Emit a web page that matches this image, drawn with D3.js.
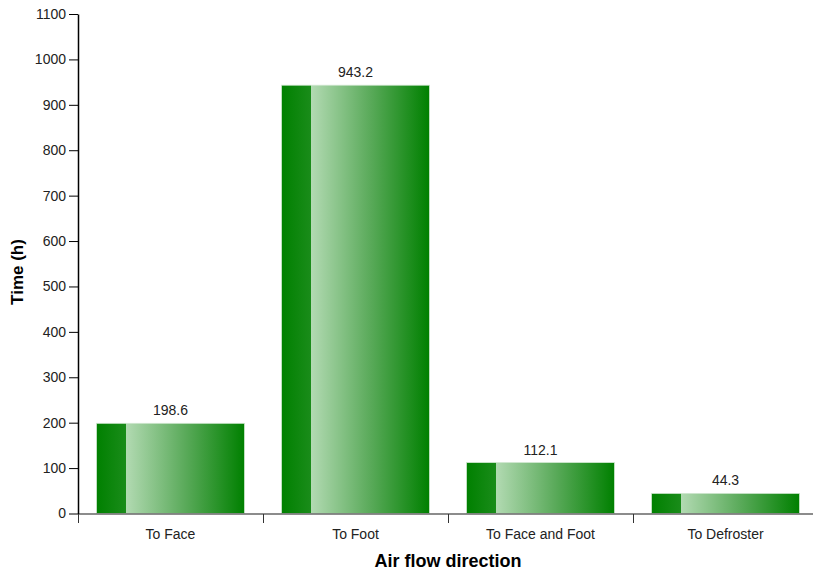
<!DOCTYPE html>
<html><head><meta charset="utf-8">
<script src="https://cdn.jsdelivr.net/npm/d3@7"></script>
<style>body{margin:0;background:#fff;} text{font-family:"Liberation Sans",Arial,sans-serif;}</style>
</head><body>
<svg id="c" width="813" height="574"></svg>
<script>
const categories = ["To Face", "To Foot", "To Face and Foot", "To Defroster"];
const values = [198.6, 943.2, 112.1, 44.3];
const yTicks = [0,100,200,300,400,500,600,700,800,900,1000,1100];

(function(){
const svg = d3.select("#c");
const mLeft = 78, mTop = 14, mBottom = 513.5, mRight = 818;
const x = d3.scaleBand().domain(categories).range([mLeft, mRight]).paddingInner(0.2).paddingOuter(0.1);
const y = d3.scaleLinear().domain([0, 1100]).range([mBottom, mTop]);

const defs = svg.append("defs");
const g = defs.append("linearGradient").attr("id","bg").attr("x1","0%").attr("x2","100%").attr("y1","0%").attr("y2","0%");
[[0,"#008000"],[20,"#1a8c1a"],[20,"#b2dab2"],[60,"#5aaa5a"],[100,"#008000"]].forEach(([o,c])=>
  g.append("stop").attr("offset",o+"%").attr("stop-color",c));

// bars
svg.append("g").selectAll("rect").data(values).join("rect")
  .attr("x",(d,i)=>x(categories[i]))
  .attr("y",d=>y(d))
  .attr("width",x.bandwidth())
  .attr("height",d=>mBottom - y(d))
  .attr("fill","url(#bg)")
  .attr("stroke","#cfe6cf").attr("stroke-width",0.8);

// value labels
svg.append("g").selectAll("text").data(values).join("text")
  .attr("x",(d,i)=>x(categories[i])+x.bandwidth()/2)
  .attr("y",d=>y(d)-8)
  .attr("text-anchor","middle").attr("font-size",14).attr("fill","#222")
  .text(d=>d.toFixed(1));

// x axis
const xa = svg.append("g").attr("transform",`translate(0,${mBottom+0.5})`);
xa.append("line").attr("x1",mLeft).attr("x2",813).attr("y1",0).attr("y2",0).attr("stroke","#666").attr("stroke-width",1.5);
const bx = c => Math.round(x(c) - x.step()*x.paddingOuter()) + 0.5;
xa.selectAll("line.t").data(categories).join("line").attr("class","t")
  .attr("x1",bx).attr("x2",bx)
  .attr("y1",0).attr("y2",9).attr("stroke","#333");
xa.selectAll("text").data(categories).join("text")
  .attr("x",c=>x(c)+x.bandwidth()/2).attr("y",25)
  .attr("text-anchor","middle").attr("font-size",14).attr("fill","#222").text(c=>c);

// y axis
const ya = svg.append("g").attr("transform",`translate(${mLeft},0)`)
  .call(d3.axisLeft(y).tickValues(yTicks).tickFormat(d3.format("d")).tickSize(9).tickPadding(3).tickSizeOuter(0));
ya.select(".domain").attr("stroke","#000").attr("stroke-width",1.5);
ya.selectAll(".tick line").attr("stroke","#000");
ya.selectAll(".tick text").attr("font-size",14).attr("fill","#222").attr("font-family","'Liberation Sans',Arial,sans-serif");

// titles
svg.append("text").attr("transform",`translate(23,272) rotate(-90)`)
  .attr("text-anchor","middle").attr("font-size",17).attr("font-weight","bold").attr("fill","#000").text("Time (h)");
svg.append("text").attr("x",448).attr("y",567)
  .attr("text-anchor","middle").attr("font-size",18).attr("font-weight","bold").attr("fill","#000").text("Air flow direction");
})();
</script>
</body></html>
